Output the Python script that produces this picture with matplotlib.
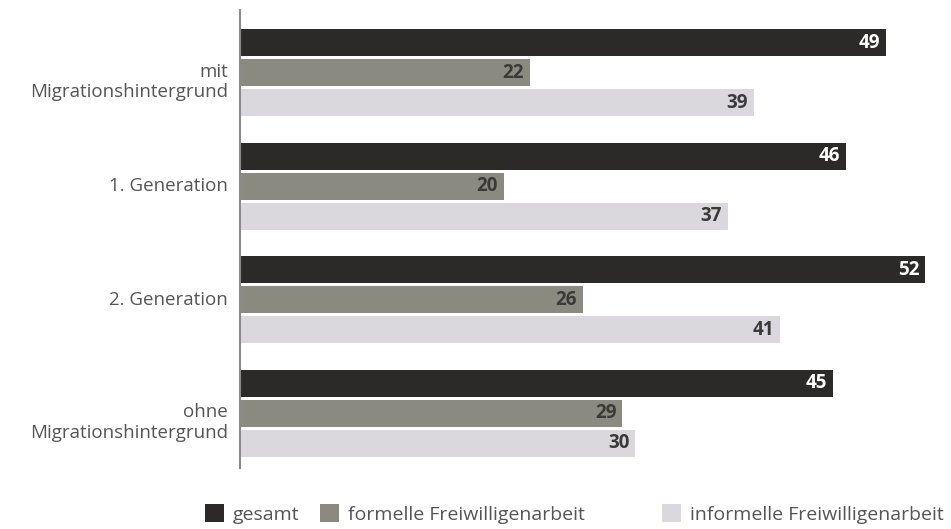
import matplotlib.pyplot as plt
import numpy as np

groups = ['mit\nMigrationshintergrund', '1. Generation', '2. Generation', 'ohne\nMigrationshintergrund']
series = ['gesamt', 'formelle Freiwilligenarbeit', 'informelle Freiwilligenarbeit']
gesamt = [49, 46, 52, 45]
formell = [22, 20, 26, 29]
informell = [39, 37, 41, 30]

colors = ['#2b2a29', '#8b8a80', '#dad8dd']
text_colors = ['white', '#3a3a38', '#3a3a38']

plt.rcParams['font.family'] = ['Open Sans', 'DejaVu Sans']

fig = plt.figure(figsize=(9.51, 5.29), dpi=100)
ax = fig.add_axes([240 / 951, 61 / 529, 711 / 951, 458 / 529])

group_step = 3.78
first = 1.1
values = [gesamt, formell, informell]
bars = []
for k, vals in enumerate(values):
    y = np.arange(len(groups)) * group_step + first + k
    b = ax.barh(y, vals, height=0.9, color=colors[k], label=series[k])
    bars.append(b)
    for yi, v in zip(y, vals):
        ax.text(v - 0.45, yi, str(v), ha='right', va='center', fontsize=13.5,
                fontweight='bold', color=text_colors[k])

# group labels, two-line ones sit a little lower
for i, name in enumerate(groups):
    yc = i * group_step + first + 1
    if '\n' in name:
        yc += 0.3
    ax.text(-0.9, yc, name, ha='right', va='center', fontsize=13.5,
            color='#555555', linespacing=1.2)

ax.set_xlim(0, 711 / 13.18)
ax.set_ylim(15.27, 0)
ax.set_xticks([])
ax.set_yticks([])
for side in ['top', 'right', 'bottom']:
    ax.spines[side].set_visible(False)
ax.spines['left'].set_color('#8a8a8a')
ax.spines['left'].set_linewidth(1.5)

# one legend per entry so the gaps can differ
legend_x = [205, 320, 662]
for b, name, lx in zip(bars, series, legend_x):
    fig.legend([b], [name], loc='center left', bbox_to_anchor=(lx / 951, 15 / 529),
               frameon=False, fontsize=14, handlelength=1.0, handleheight=1.0,
               handletextpad=0.45, borderpad=0, borderaxespad=0, labelcolor='#555555')

fig.savefig('out.png', dpi=100, facecolor='white')
